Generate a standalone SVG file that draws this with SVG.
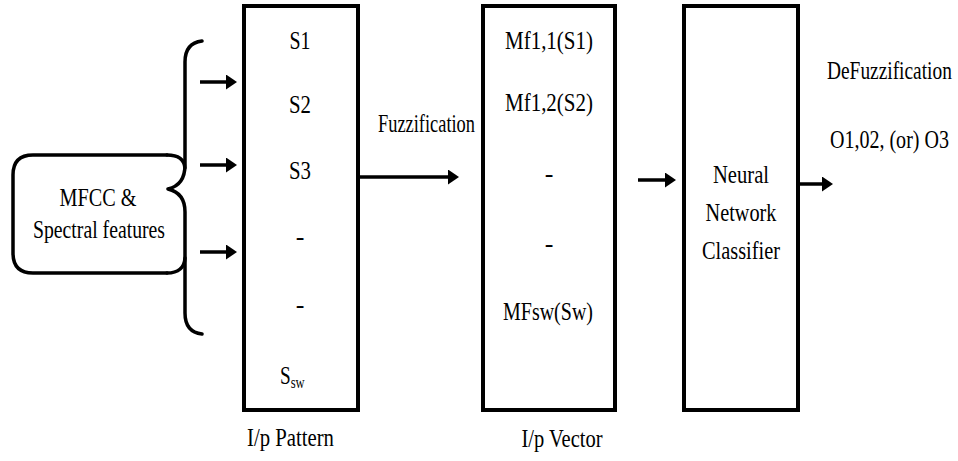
<svg xmlns="http://www.w3.org/2000/svg" width="958" height="461" viewBox="0 0 958 461">
<defs>
<style>
.box{fill:#fff;stroke:#000;stroke-width:4}
.ln{fill:none;stroke:#000;stroke-width:3.5;stroke-linecap:butt}
.br{fill:none;stroke:#000;stroke-width:3.5;stroke-linejoin:round;stroke-linecap:round}
</style>
<marker id="ah" markerUnits="userSpaceOnUse" markerWidth="12" markerHeight="16" refX="5" refY="7.5" orient="auto">
<path d="M0,0 L11,7.5 L0,15 z" fill="#000"/>
</marker>
</defs>
<rect width="958" height="461" fill="#fff"/>
<g font-family="'Liberation Serif', 'Times New Roman', serif" font-size="26" fill="#000">
<g id="features">
<path class="br" d="M167,155 H33 Q13,155 13,175 V253 Q13,273 33,273 H167"/>
<path class="br" d="M202,41 Q185,43 185,62 V165 Q185,185 168,189 Q185,193 185,212 V313 Q185,332 202,334"/>
<path class="br" d="M167,155 Q184,155 185,168"/>
<path class="br" d="M167,273 Q184,273 185,258"/>
<text text-anchor="middle" x="98" y="206" textLength="77" lengthAdjust="spacingAndGlyphs">MFCC &amp;</text>
<text text-anchor="middle" x="99" y="238" textLength="132" lengthAdjust="spacingAndGlyphs">Spectral features</text>
</g>

<g id="pattern">
<rect class="box" x="244" y="6" width="114" height="404"/>
<text text-anchor="middle" x="300" y="49" textLength="21" lengthAdjust="spacingAndGlyphs">S1</text>
<text text-anchor="middle" x="300" y="113" textLength="22" lengthAdjust="spacingAndGlyphs">S2</text>
<text text-anchor="middle" x="300" y="179" textLength="22" lengthAdjust="spacingAndGlyphs">S3</text>
<text text-anchor="middle" x="300" y="245">-</text>
<text text-anchor="middle" x="300" y="313">-</text>
<text transform="translate(280,384) scale(0.74,1)">S<tspan font-size="17" dy="4">sw</tspan></text>
<text x="247" y="446" textLength="87" lengthAdjust="spacingAndGlyphs">I/p Pattern</text>
</g>

<g id="vector">
<rect class="box" x="483" y="6" width="132" height="404"/>
<text text-anchor="middle" x="549" y="49" textLength="88" lengthAdjust="spacingAndGlyphs">Mf1,1(S1)</text>
<text text-anchor="middle" x="549" y="111" textLength="88" lengthAdjust="spacingAndGlyphs">Mf1,2(S2)</text>
<text text-anchor="middle" x="549" y="182">-</text>
<text text-anchor="middle" x="549" y="252">-</text>
<text text-anchor="middle" x="548" y="320" textLength="90" lengthAdjust="spacingAndGlyphs">MFsw(Sw)</text>
<text text-anchor="middle" x="562" y="447" textLength="81" lengthAdjust="spacingAndGlyphs">I/p Vector</text>
</g>

<g id="classifier">
<rect class="box" x="684" y="6" width="114" height="404"/>
<text text-anchor="middle" x="741" y="183" textLength="56" lengthAdjust="spacingAndGlyphs">Neural</text>
<text text-anchor="middle" x="741" y="221" textLength="71" lengthAdjust="spacingAndGlyphs">Network</text>
<text text-anchor="middle" x="741" y="259" textLength="78" lengthAdjust="spacingAndGlyphs">Classifier</text>
</g>

<g id="labels">
<text x="378" y="132" textLength="97" lengthAdjust="spacingAndGlyphs">Fuzzification</text>
<text transform="translate(827,79) scale(0.746,1)">DeFuzzification</text>
<text transform="translate(830,148) scale(0.77,1)">O1,02, (or) O3</text>
</g>
</g>
<g id="connectors">
<line class="ln" x1="200" y1="82" x2="231" y2="82" marker-end="url(#ah)"/>
<line class="ln" x1="200" y1="165" x2="231" y2="165" marker-end="url(#ah)"/>
<line class="ln" x1="200" y1="252" x2="231" y2="252" marker-end="url(#ah)"/>
<line class="ln" x1="358" y1="177" x2="453" y2="177" marker-end="url(#ah)"/>
<line class="ln" x1="638" y1="180" x2="670" y2="180" marker-end="url(#ah)"/>
<line class="ln" x1="798" y1="184" x2="827" y2="184" marker-end="url(#ah)"/>
</g>
</svg>
